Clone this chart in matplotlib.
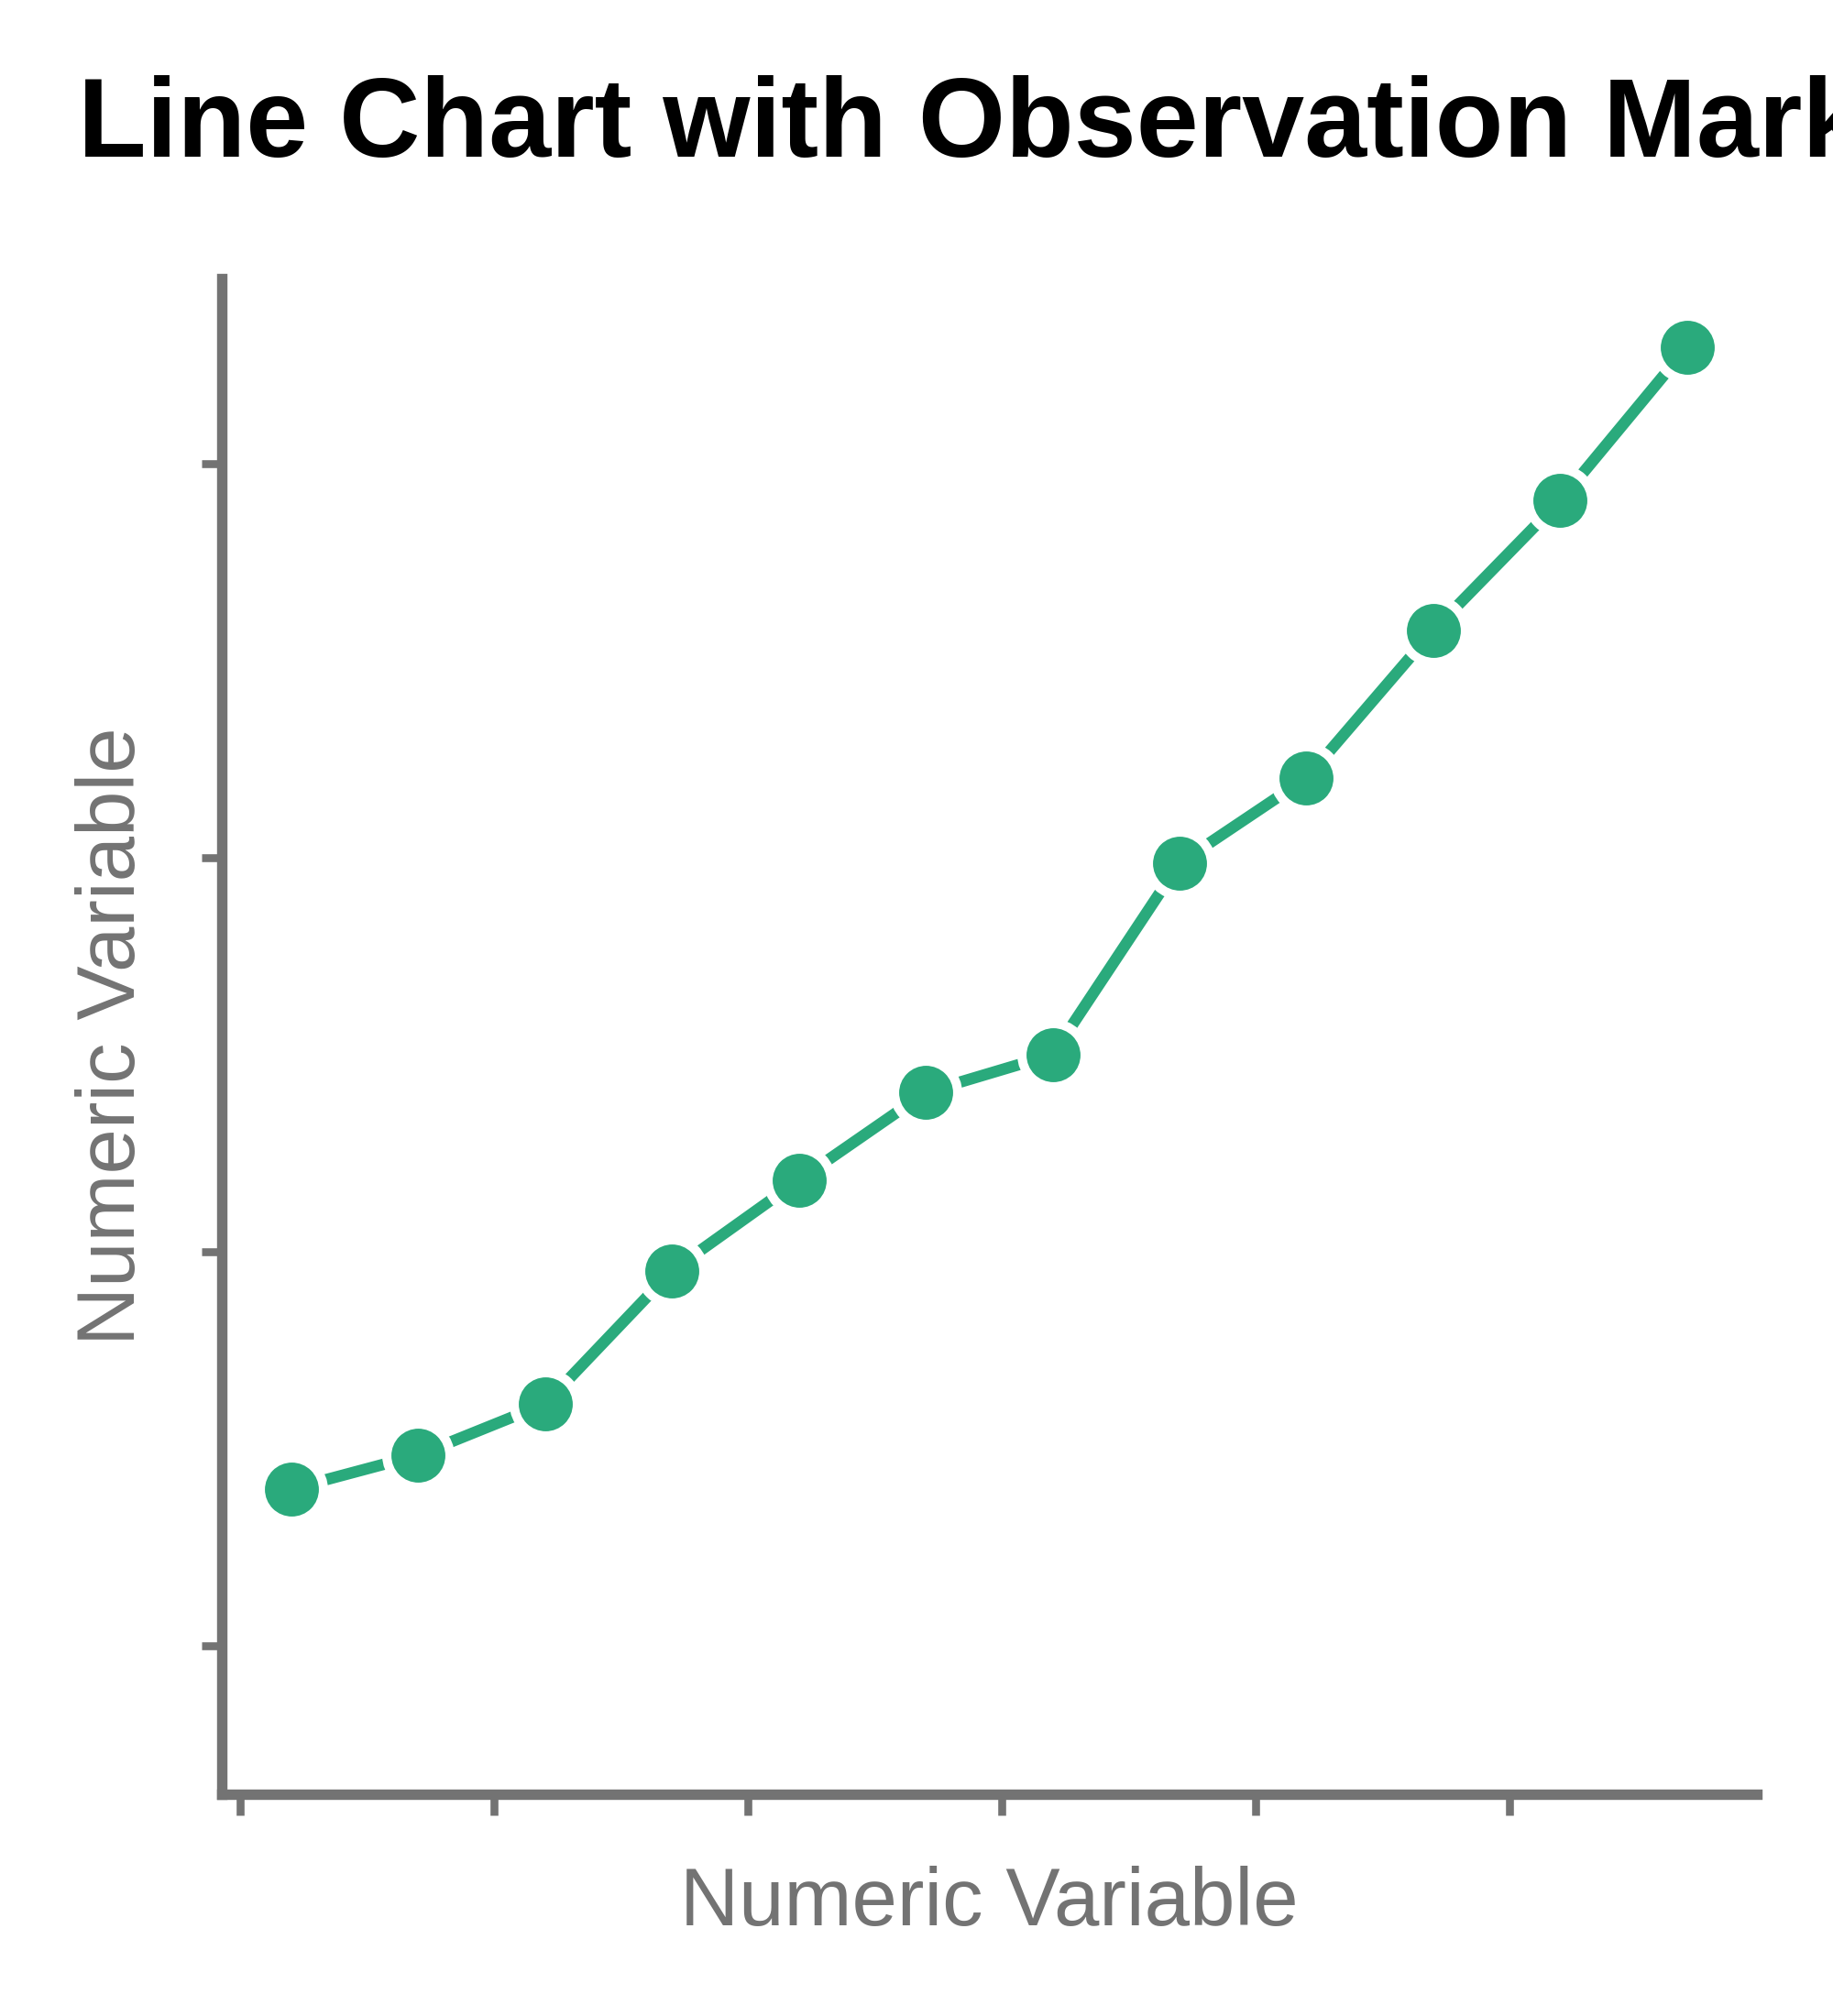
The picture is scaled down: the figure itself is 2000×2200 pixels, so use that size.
import matplotlib
matplotlib.use("Agg")
import matplotlib.pyplot as plt

x_values = [0.4, 1.4, 2.4, 3.4, 4.4, 5.4, 6.4, 7.4, 8.4, 9.4, 10.4, 11.4]
y_values = [13.98, 14.84, 16.14, 19.52, 21.82, 24.05, 25.01, 29.87, 32.03, 35.78, 39.08, 42.97]
x_ticks = [0, 2, 4, 6, 8, 10]
y_ticks = [10, 20, 30, 40]
y_limits = (6.23, 44.71)

title = "Line Chart with Observation Markers"
x_label = "Numeric Variable"
y_label = "Numeric Variable"

green = "#2AAA7C"
gray = "#737373"

plt.rcParams["font.family"] = ["Liberation Sans", "DejaVu Sans"]

fig = plt.figure(figsize=(10, 11), dpi=200)
ax = fig.add_axes([0.1208, 0.1100, 0.8377, 0.7518])

ax.plot(x_values, y_values, color=green, linewidth=4.5,
        marker="o", markersize=24.8, markerfacecolor=green,
        markeredgecolor="white", markeredgewidth=3.6, solid_capstyle="butt")

ax.set_ylim(*y_limits)
ax.set_xticks(x_ticks)
ax.set_yticks(y_ticks)
ax.set_xticklabels([])
ax.set_yticklabels([])
ax.tick_params(direction="out", length=8.1, width=3.1, color=gray)

for side in ["top", "right"]:
    ax.spines[side].set_visible(False)
for side in ["left", "bottom"]:
    ax.spines[side].set_color(gray)
    ax.spines[side].set_linewidth(4.1)

ax.set_xlabel(x_label, fontsize=32, color=gray)
ax.set_ylabel(y_label, fontsize=32, color=gray)
ax.xaxis.set_label_coords(0.5, -0.047)
ax.yaxis.set_label_coords(-0.0453, 0.5)

# title runs past the right edge, as in the original
fig.text(85 / 2000, 1 - 171 / 2200, title, fontsize=44, fontweight="bold",
         color="black", ha="left", va="baseline")

fig.savefig("out.png", dpi=200)
